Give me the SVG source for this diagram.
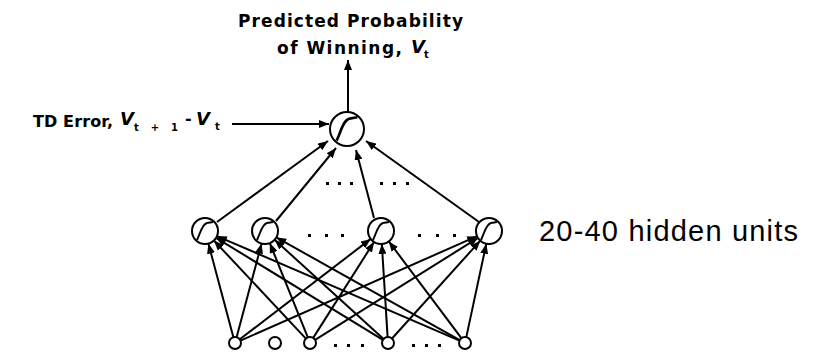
<svg xmlns="http://www.w3.org/2000/svg" width="823" height="353" viewBox="0 0 823 353">
<style>
.bm{font-family:"DejaVu Sans","Liberation Sans",sans-serif;font-weight:bold;fill:#000}
.lbl{font-family:"Liberation Sans",Arial,sans-serif;fill:#000}
.node{fill:#fff;stroke:#000;stroke-width:2}
.sig{fill:none;stroke:#000;stroke-width:2}
.edge{stroke:#000;stroke-width:2;fill:none;marker-end:url(#ah)}
.dot{fill:#000}
</style>
<defs>
<marker id="ah" markerUnits="userSpaceOnUse" markerWidth="12" markerHeight="8" refX="10" refY="4" orient="auto">
<path d="M0,0 L10,4 L0,8 Z" fill="#000"/>
</marker>
<path id="sg" d="M -8 9 C -5 3, -3 -7, 2 -8 L 8 -9"/>
</defs>

<g id="labels">
<text class="bm" x="238" y="27" font-size="17" textLength="225" lengthAdjust="spacing">Predicted Probability</text>
<text class="bm" x="277" y="54" font-size="17" textLength="125" lengthAdjust="spacing">of Winning,</text>
<text class="bm" x="411" y="53" font-size="18" font-style="italic">V</text>
<text class="bm" x="424" y="58" font-size="10">t</text>
<text class="bm" x="33" y="127" font-size="16" textLength="80" lengthAdjust="spacing">TD Error,</text>
<text class="bm" x="120" y="125" font-size="18" font-style="italic">V</text>
<text class="bm" x="134" y="131" font-size="10" textLength="44" lengthAdjust="spacing">t+1</text>
<text class="bm" x="185" y="124" font-size="16">-</text>
<text class="bm" x="196" y="125" font-size="18" font-style="italic">V</text>
<text class="bm" x="215" y="130" font-size="10">t</text>
<text class="lbl" x="539" y="241" font-size="29" textLength="259" lengthAdjust="spacing">20-40 hidden units</text>
</g>

<g id="connectors">
<line class="edge" x1="348" y1="112" x2="348" y2="60"/>
<line class="edge" x1="232" y1="124" x2="329" y2="124"/>
<line class="edge" x1="217" y1="222" x2="328" y2="141"/>
<line class="edge" x1="276" y1="221" x2="336" y2="148"/>
<line class="edge" x1="374" y1="218" x2="356" y2="150"/>
<line class="edge" x1="479" y1="222" x2="366" y2="141"/>
<line class="edge" x1="233.4" y1="337.2" x2="208.4" y2="243.6"/>
<line class="edge" x1="236.6" y1="337.2" x2="261.6" y2="243.6"/>
<line class="edge" x1="239.8" y1="339.3" x2="370.7" y2="238.9"/>
<line class="edge" x1="240.5" y1="340.6" x2="477.1" y2="236.2"/>
<line class="edge" x1="305.9" y1="338.6" x2="213.9" y2="240.5"/>
<line class="edge" x1="307.8" y1="337.4" x2="269.8" y2="243.1"/>
<line class="edge" x1="313.2" y1="337.9" x2="374.0" y2="242.0"/>
<line class="edge" x1="315.1" y1="339.8" x2="478.0" y2="237.9"/>
<line class="edge" x1="382.9" y1="339.9" x2="216.1" y2="237.8"/>
<line class="edge" x1="383.6" y1="339.0" x2="274.6" y2="239.7"/>
<line class="edge" x1="387.6" y1="337.0" x2="381.8" y2="244.0" stroke-width="3"/>
<line class="edge" x1="392.0" y1="338.5" x2="480.3" y2="240.7"/>
<line class="edge" x1="459.5" y1="340.6" x2="216.9" y2="236.1"/>
<line class="edge" x1="459.8" y1="340.1" x2="276.3" y2="237.4"/>
<line class="edge" x1="461.4" y1="338.2" x2="388.8" y2="241.4"/>
<line class="edge" x1="466.3" y1="337.1" x2="486.3" y2="243.7"/>
</g>

<g id="dots">
<rect class="dot" x="326" y="182" width="3" height="3"/><rect class="dot" x="338" y="182" width="3" height="3"/><rect class="dot" x="350" y="182" width="3" height="3"/>
<rect class="dot" x="380" y="182" width="3" height="3"/><rect class="dot" x="393" y="182" width="3" height="3"/><rect class="dot" x="406" y="182" width="3" height="3"/>
<rect class="dot" x="308" y="234" width="3" height="3"/><rect class="dot" x="325" y="234" width="3" height="3"/><rect class="dot" x="341" y="234" width="3" height="3"/>
<rect class="dot" x="418" y="234" width="3" height="3"/><rect class="dot" x="436" y="234" width="3" height="3"/><rect class="dot" x="453" y="234" width="3" height="3"/>
<rect class="dot" x="334" y="344" width="3" height="3"/><rect class="dot" x="347" y="344" width="3" height="3"/><rect class="dot" x="361" y="344" width="3" height="3"/>
<rect class="dot" x="412" y="344" width="3" height="3"/><rect class="dot" x="425" y="344" width="3" height="3"/><rect class="dot" x="438" y="344" width="3" height="3"/>
</g>

<g id="output"><circle class="node" cx="347" cy="129" r="17"/><use href="#sg" class="sig" transform="translate(347 129) scale(1.3)" stroke-width="1.5"/></g>
<g id="hidden1"><circle class="node" cx="205" cy="231" r="13"/><use href="#sg" class="sig" transform="translate(205 231)"/></g>
<g id="hidden2"><circle class="node" cx="265" cy="231" r="13"/><use href="#sg" class="sig" transform="translate(265 231)"/></g>
<g id="hidden3"><circle class="node" cx="381" cy="231" r="13"/><use href="#sg" class="sig" transform="translate(381 231)"/></g>
<g id="hidden4"><circle class="node" cx="489" cy="231" r="13"/><use href="#sg" class="sig" transform="translate(489 231)"/></g>
<g id="input1"><circle class="node" cx="235" cy="343" r="6"/></g>
<g id="input2"><circle class="node" cx="275" cy="343" r="6"/></g>
<g id="input3"><circle class="node" cx="310" cy="343" r="6"/></g>
<g id="input4"><circle class="node" cx="388" cy="343" r="6"/></g>
<g id="input5"><circle class="node" cx="465" cy="343" r="6"/></g>
</svg>
